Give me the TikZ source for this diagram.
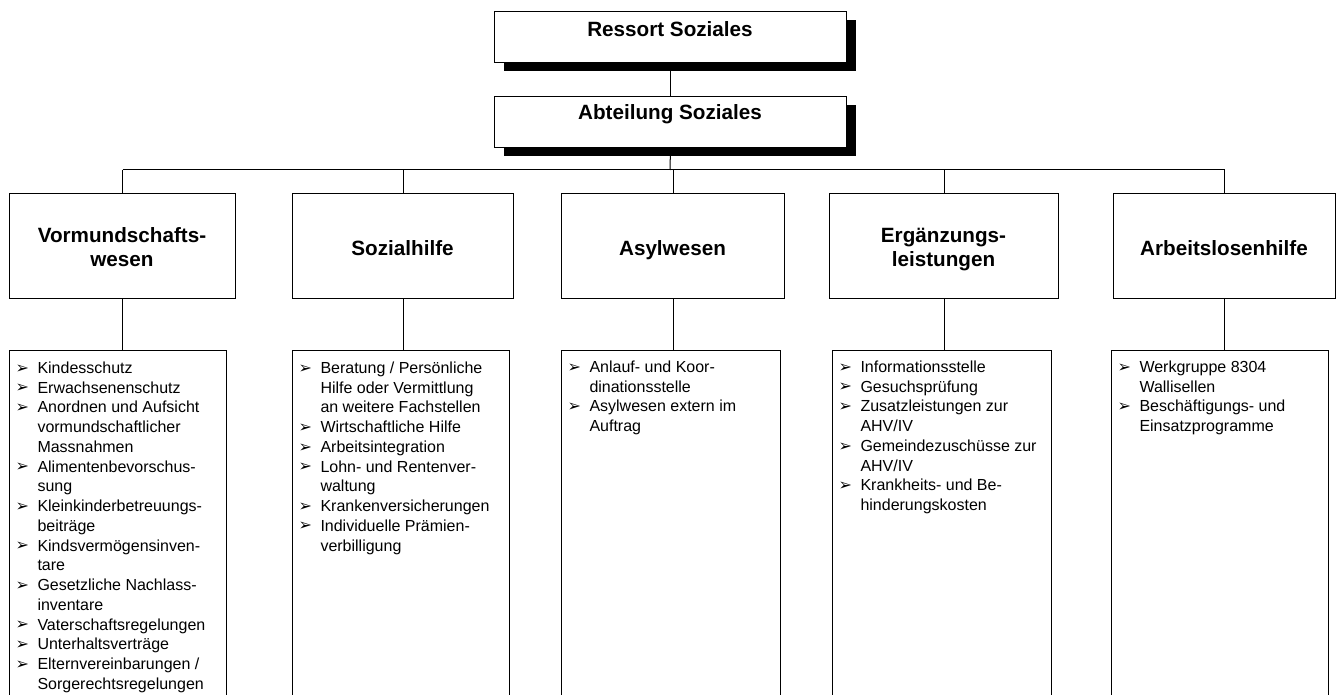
\documentclass[tikz,border=0pt]{standalone}
\usepackage{fontspec}
\setmainfont{Liberation Sans}
\newfontfamily\symfont{DejaVu Sans}
\usetikzlibrary{shadows}
\newcommand\itm[1]{\par\hangindent=16.5pt\hangafter=1\noindent\makebox[16.5pt][l]{\raisebox{0.3pt}{\symfont\fontsize{12}{12}\selectfont ➢}}#1}
\newcommand\lst[1]{\parbox[t]{158pt}{\fontsize{12}{14.8}\selectfont\raggedright\parindent=0pt #1}}
\begin{document}
\begin{tikzpicture}[x=0.75pt,y=-0.75pt,line width=0.75pt,
  box/.style={draw=black,fill=white,inner sep=0pt,anchor=north west},
  shbox/.style={box,drop shadow={fill=black,opacity=1,shadow xshift=6.75pt,shadow yshift=-6.75pt}},
  ttl/.style={font=\fontsize{15.5}{17.6}\selectfont\bfseries,inner sep=0pt,anchor=base},
  lsttxt/.style={inner sep=0pt,anchor=base west}]
\useasboundingbox (0,0) rectangle (1344,695);
\clip (0,0) rectangle (1344,695);
\fill[white] (0,0) rectangle (1344,695);
% top boxes
\node[shbox,minimum width=264pt,minimum height=38.25pt] (ressort) at (494,11) {};
\node[shbox,minimum width=264pt,minimum height=38.25pt] (abt) at (494,96) {};
\node[ttl] (tressort) at (670,36.4) {Ressort Soziales};
\node[ttl] (tabt) at (670,119.7) {Abteilung Soziales};
% level 2
\node[box,minimum width=169.5pt,minimum height=78.75pt] (la) at (9,193) {};
\node[box,minimum width=165.75pt,minimum height=78.75pt] (lb) at (292,193) {};
\node[box,minimum width=167.25pt,minimum height=78.75pt] (lc) at (561,193) {};
\node[box,minimum width=171.75pt,minimum height=78.75pt] (ld) at (829,193) {};
\node[box,minimum width=166.5pt,minimum height=78.75pt] (le) at (1113,193) {};
\node[ttl] (ta) at (122,243) {\begin{tabular}[t]{@{}c@{}}Vormundschafts-\\wesen\end{tabular}};
\node[ttl] (tb) at (402.5,255.5) {Sozialhilfe};
\node[ttl] (tc) at (672.5,255.5) {Asylwesen};
\node[ttl] (td) at (943.5,243) {\begin{tabular}[t]{@{}c@{}}Ergänzungs-\\leistungen\end{tabular}};
\node[ttl] (te) at (1224,255.5) {Arbeitslosenhilfe};
% level 3
\node[box,minimum width=162.75pt,minimum height=300pt] (ma) at (9,350) {};
\node[box,minimum width=162.75pt,minimum height=300pt] (mb) at (292,350) {};
\node[box,minimum width=164.25pt,minimum height=300pt] (mc) at (561,350) {};
\node[box,minimum width=164.25pt,minimum height=300pt] (md) at (832,350) {};
\node[box,minimum width=162.75pt,minimum height=300pt] (me) at (1111,350) {};
\node[lsttxt] (xa) at (15,373.5) {\lst{%
\itm{Kindesschutz}
\itm{Erwachsenenschutz}
\itm{Anordnen und Aufsicht\newline vormundschaftlicher\newline Massnahmen}
\itm{Alimentenbevorschus-\newline sung}
\itm{Kleinkinderbetreuungs-\newline beiträge}
\itm{Kindsvermögensinven-\newline tare}
\itm{Gesetzliche Nachlass-\newline inventare}
\itm{Vaterschaftsregelungen}
\itm{Unterhaltsverträge}
\itm{Elternvereinbarungen /\newline Sorgerechtsregelungen}}};
\node[lsttxt] (xb) at (298,373.5) {\lst{%
\itm{Beratung / Persönliche\newline Hilfe oder Vermittlung\newline an weitere Fachstellen}
\itm{Wirtschaftliche Hilfe}
\itm{Arbeitsintegration}
\itm{Lohn- und Rentenver-\newline waltung}
\itm{Krankenversicherungen}
\itm{Individuelle Prämien-\newline verbilligung}}};
\node[lsttxt] (xc) at (567,372.5) {\lst{%
\itm{Anlauf- und Koor-\newline dinationsstelle}
\itm{Asylwesen extern im\newline Auftrag}}};
\node[lsttxt] (xd) at (838,372.5) {\lst{%
\itm{Informationsstelle}
\itm{Gesuchsprüfung}
\itm{Zusatzleistungen zur\newline AHV/IV}
\itm{Gemeindezuschüsse zur\newline AHV/IV}
\itm{Krankheits- und Be-\newline hinderungskosten}}};
\node[lsttxt] (xe) at (1117,372.5) {\lst{%
\itm{Werkgruppe 8304\newline Wallisellen}
\itm{Beschäftigungs- und\newline Einsatzprogramme}}};
% connectors
\draw (ressort.south) -- (abt.north);
\coordinate (bus) at (670,170);
\draw (abt.south) -- (bus);
\draw (la.north |- bus) -- (le.north |- bus);
\foreach \n in {la,lb,lc,ld,le} {\draw (\n.north |- bus) -- (\n.north);}
\draw (la.south) -- (la.south |- ma.north);
\draw (lb.south) -- (lb.south |- mb.north);
\draw (lc.south) -- (lc.south |- mc.north);
\draw (ld.south) -- (ld.south |- md.north);
\draw (le.south) -- (le.south |- me.north);
\end{tikzpicture}
\end{document}
